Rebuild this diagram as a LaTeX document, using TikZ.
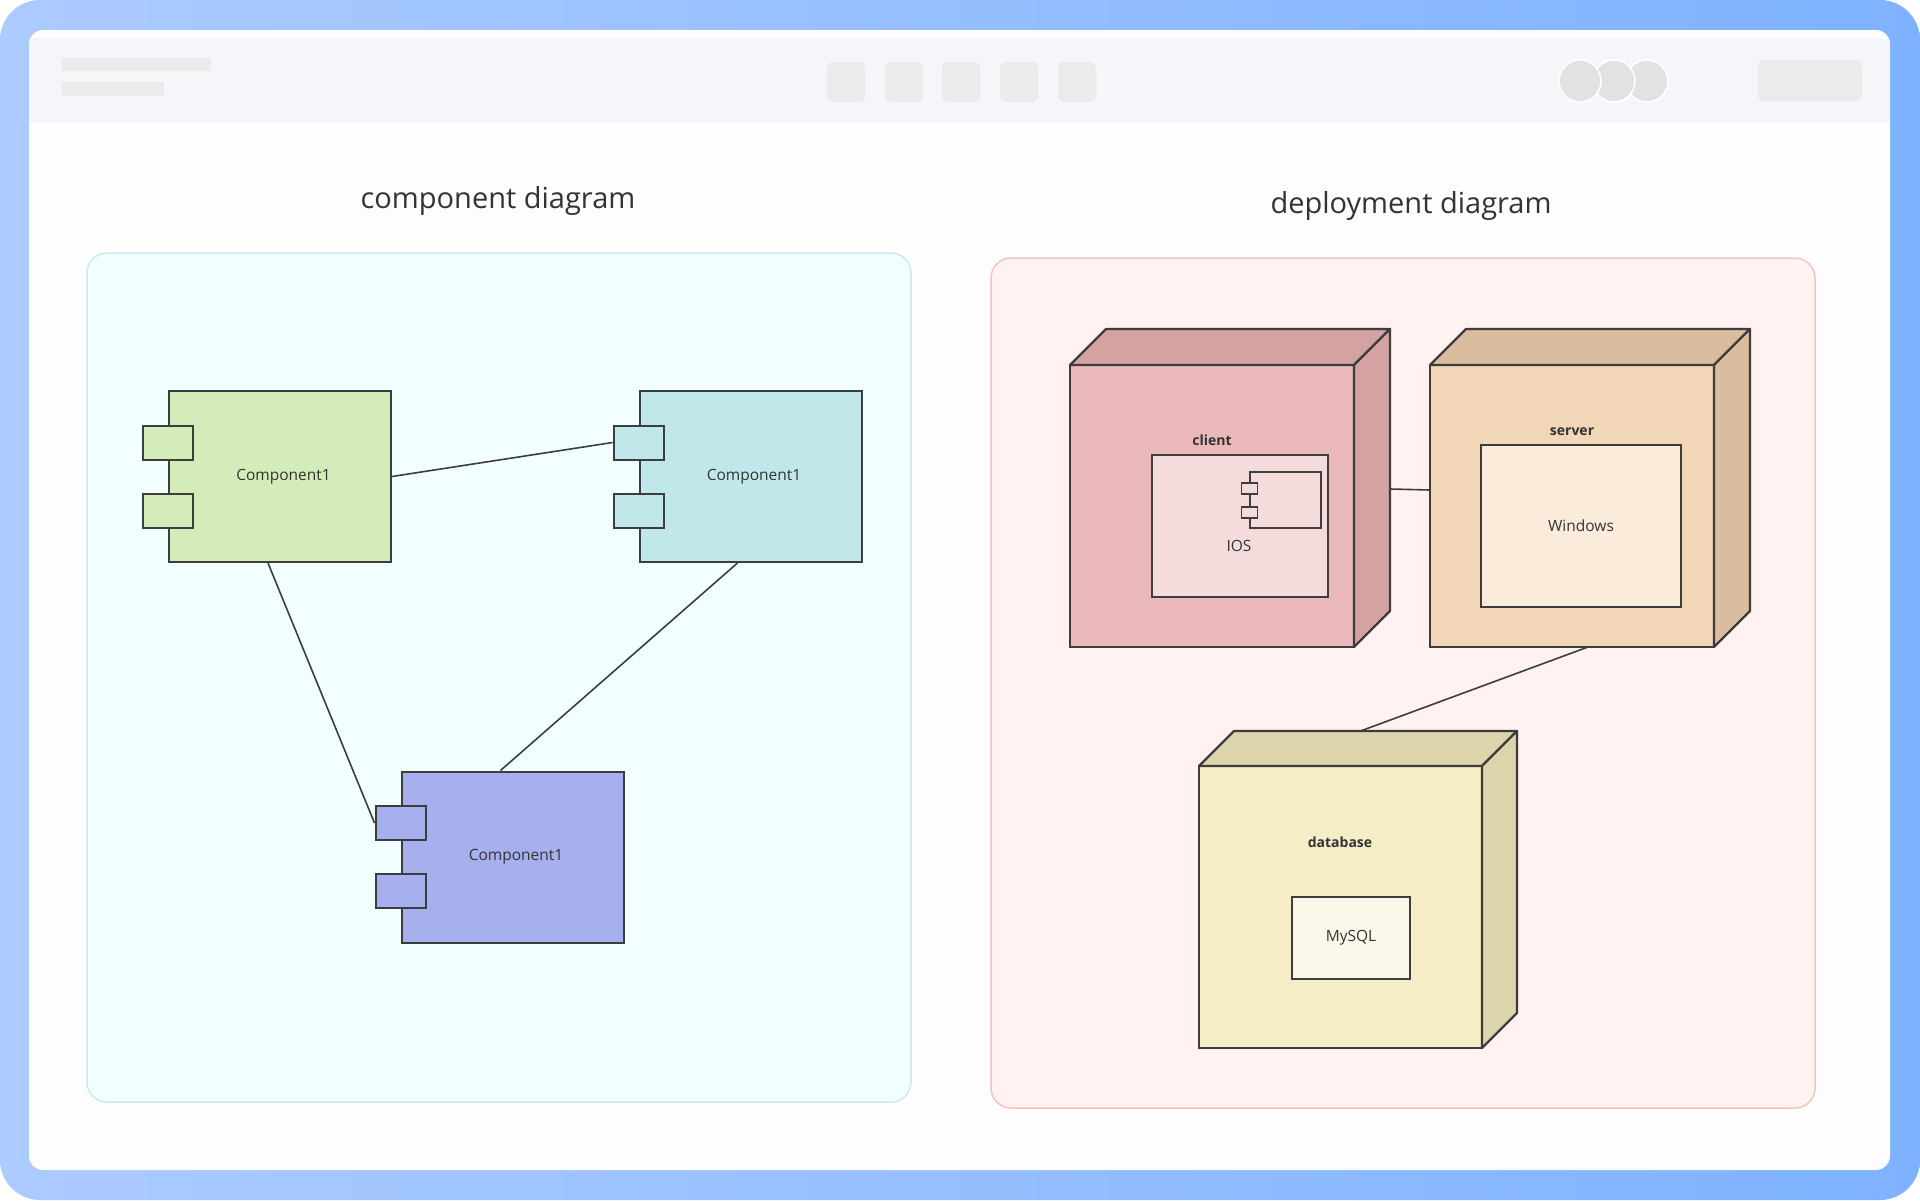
\documentclass[tikz,border=0pt]{standalone}
\usepackage{fontspec}
\setmainfont{Open Sans}
\usepackage{xcolor}
\usetikzlibrary{positioning,calc}
\definecolor{framel}{HTML}{ACCBFF}
\definecolor{framer}{HTML}{7EB2FF}
\definecolor{pagebg}{HTML}{FDFDFD}
\definecolor{barbg}{HTML}{F4F6FA}
\definecolor{bargrey}{HTML}{EBEBEB}
\definecolor{linegrey}{HTML}{3D3D3D}
\definecolor{txt}{HTML}{333333}
\definecolor{cyanbg}{HTML}{F2FFFF}
\definecolor{cyanline}{HTML}{C6ECEF}
\definecolor{pinkbg}{HTML}{FFF2F1}
\definecolor{pinkline}{HTML}{F2C4C0}
\definecolor{cgreen}{HTML}{D3ECB9}
\definecolor{ccyan}{HTML}{C0E8EA}
\definecolor{cpurple}{HTML}{A7B0EE}
\definecolor{clfront}{HTML}{EBB9B9}
\definecolor{clside}{HTML}{D4A2A1}
\definecolor{clinner}{HTML}{F5DCDC}
\definecolor{svfront}{HTML}{F1D6B7}
\definecolor{svside}{HTML}{D9BD9E}
\definecolor{svinner}{HTML}{FAEBDA}
\definecolor{dbfront}{HTML}{F5EDC5}
\definecolor{dbside}{HTML}{DCD4AB}
\definecolor{dbinner}{HTML}{FCF8E9}
\tikzset{
panel/.style = {rounded corners=20pt, line width=1.5pt},
comp/.style = {draw=linegrey, line width=2pt, rectangle, inner sep=0pt, text width=222pt, align=center, minimum height=171pt, text=txt, font=\fontsize{15.5}{18}\selectfont},
port/.style = {draw=linegrey, line width=2pt, rectangle, minimum width=50pt, minimum height=34pt},
minip/.style = {draw=linegrey, line width=1.5pt, fill=clinner, rectangle, inner sep=0pt, minimum width=16pt, minimum height=11pt},
front/.style = {draw=linegrey, line width=2.2pt, rectangle, outer sep=0pt, minimum width=284pt, minimum height=282pt},
face/.style = {draw=linegrey, line width=2.2pt, line join=round},
inbox/.style = {draw=linegrey, line width=2pt, rectangle, text=txt, font=\fontsize{15.5}{18}\selectfont},
plain/.style = {text=txt, font=\fontsize{15.5}{18}\selectfont},
nlabel/.style = {text=txt, font=\fontsize{14}{16}\selectfont\bfseries},
title/.style = {text=txt, font=\fontsize{29}{33}\selectfont},
link/.style = {draw=linegrey, line width=1.6pt},
tool/.style = {fill=bargrey, rounded corners=6pt}
}
\begin{document}
\begin{tikzpicture}[x=1pt,y=-1pt]
    \useasboundingbox (0,0) rectangle (1920,1200);
    \shade[left color=framel, right color=framer, rounded corners=40pt] (0,0) rectangle (1920,1200);
    \fill[pagebg, rounded corners=14pt] (29,30) rectangle (1890,1170);
    \begin{scope}
        \clip[rounded corners=14pt] (29,30) rectangle (1890,1170);
        \fill[barbg] (29,38) rectangle (1890,123);
    \end{scope}
    \fill[bargrey] (62,58) rectangle (211,71);
    \fill[bargrey] (62,82) rectangle (164,96);
    \foreach \x in {827,885,942,1000,1058}
        \fill[tool] (\x,62) rectangle ++(38,40);
    \foreach \x in {1647,1614,1580}
        \filldraw[fill=bargrey!96!black, draw=white, line width=1.5pt] (\x,81) circle (21pt);
    \fill[tool] (1758,60) rectangle (1862,101);

    \draw[panel, fill=cyanbg, draw=cyanline] (87,253) rectangle (911,1102);
    \draw[panel, fill=pinkbg, draw=pinkline] (991,258) rectangle (1815,1108);
    \node[title] (ctitle) at (498,201) {component diagram};
    \node[title] (dtitle) at (1411,206) {deployment diagram};

    \node[comp, fill=cgreen] (compa) at (280,476.5) {\hspace*{7pt}Component1};
    \node[port, fill=cgreen] (compa1) at ([yshift=34pt]compa.west) {};
    \node[port, fill=cgreen] (compa2) at ([yshift=-34pt]compa.west) {};
    \node[comp, fill=ccyan] (compb) at (750.5,476.5) {\hspace*{7pt}Component1};
    \node[port, fill=ccyan] (compb1) at ([yshift=34pt]compb.west) {};
    \node[port, fill=ccyan] (compb2) at ([yshift=-34pt]compb.west) {};
    \node[comp, fill=cpurple] (compc) at (512.5,857) {\hspace*{7pt}Component1};
    \node[port, fill=cpurple] (compc1) at ([yshift=34pt]compc.west) {};
    \node[port, fill=cpurple] (compc2) at ([yshift=-34pt]compc.west) {};
    \draw[link] (compa.east) -- (compb1.west);
    \draw[link] ([xshift=-12pt]compa.south) -- (compc1.west);
    \draw[link] ([xshift=-13pt]compb.south) -- ([xshift=-12pt]compc.north);

    \node[front, fill=clfront] (client) at (1212,506) {};
    \filldraw[face, fill=clside] (client.north west) -- ++(36,-36) -- ([shift={(36,-36)}]client.north east) -- (client.north east) -- cycle;
    \filldraw[face, fill=clside] (client.north east) -- ++(36,-36) -- ([shift={(36,-36)}]client.south east) -- (client.south east) -- cycle;
    \node[nlabel] (clientlbl) at (1212,440) {client};
    \node[inbox, fill=clinner, minimum width=176pt, minimum height=142pt] (ios) at (1240,526) {};
    \node[plain] (ioslbl) at (1239,546) {IOS};
    \node[draw=linegrey, line width=1.5pt, fill=clinner, minimum width=71pt, minimum height=56pt] (iosicon) at (1285.5,500) {};
    \node[minip] (iosp1) at ([yshift=11.5pt]iosicon.west) {};
    \node[minip] (iosp2) at ([yshift=-12.5pt]iosicon.west) {};

    \node[front, fill=svfront] (server) at (1572,506) {};
    \filldraw[face, fill=svside] (server.north west) -- ++(36,-36) -- ([shift={(36,-36)}]server.north east) -- (server.north east) -- cycle;
    \filldraw[face, fill=svside] (server.north east) -- ++(36,-36) -- ([shift={(36,-36)}]server.south east) -- (server.south east) -- cycle;
    \node[nlabel] (serverlbl) at (1572,432) {server};
    \node[inbox, fill=svinner, minimum width=200pt, minimum height=162pt] (windows) at (1581,526) {Windows};

    \node[front, fill=dbfront, minimum width=283pt] (dbase) at (1340.5,907) {};
    \filldraw[face, fill=dbside] (dbase.north west) -- ++(35,-35) -- ([shift={(35,-35)}]dbase.north east) -- (dbase.north east) -- cycle;
    \filldraw[face, fill=dbside] (dbase.north east) -- ++(35,-35) -- ([shift={(35,-35)}]dbase.south east) -- (dbase.south east) -- cycle;
    \node[nlabel] (dbaselbl) at (1340,842) {database};
    \node[inbox, fill=dbinner, minimum width=118pt, minimum height=82pt] (mysql) at (1351,938) {MySQL};

    \draw[link] ([shift={(36,-17)}]client.east) -- ([shift={(0,-16)}]server.west);
    \draw[link] ([shift={(16,0)}]server.south) -- ([shift={(20,-35)}]dbase.north);
\end{tikzpicture}
\end{document}
